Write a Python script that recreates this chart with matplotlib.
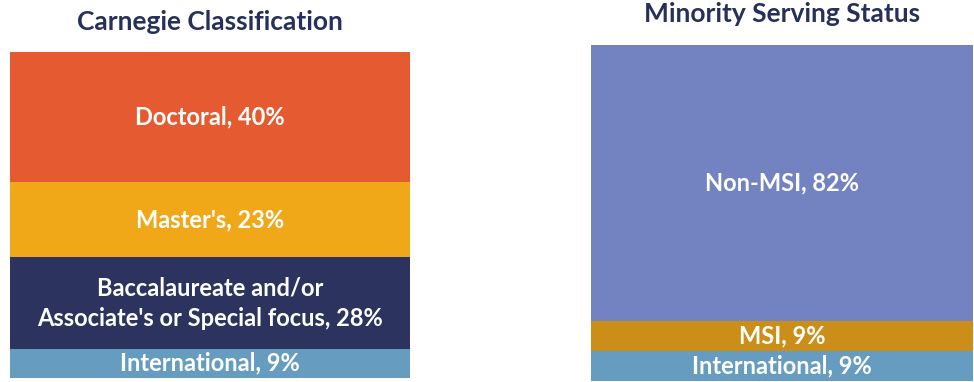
import matplotlib
matplotlib.use("Agg")
import matplotlib.pyplot as plt

# Carnegie classification shares (bottom to top)
carnegie_labels = ["International, 9%",
                   "Baccalaureate and/or\nAssociate's or Special focus, 28%",
                   "Master's, 23%",
                   "Doctoral, 40%"]
carnegie_values = [9, 28, 23, 40]
carnegie_colors = ["#669cc0", "#2b335e", "#f0a818", "#e55a30"]

# Minority serving status shares (bottom to top)
msi_labels = ["International, 9%", "MSI, 9%", "Non-MSI, 82%"]
msi_values = [9, 9, 82]
msi_colors = ["#669cc0", "#cb8e18", "#7383c2"]

plt.rcParams['font.family'] = ['Lato', 'DejaVu Sans']
TITLE_COLOR = "#27305a"

W, H = 974, 382
fig = plt.figure(figsize=(W / 100, H / 100), dpi=100)


def stacked(rect, labels, values, colors, title, title_y):
    ax = fig.add_axes(rect)
    bottom = 0
    for lab, v, c in zip(labels, values, colors):
        ax.bar(0, v, bottom=bottom, width=1, color=c, edgecolor="none")
        ax.text(0, bottom + v / 2, lab, ha="center", va="center",
                color="white", fontsize=17, fontweight="bold",
                linespacing=1.4)
        bottom += v
    ax.set_xlim(-0.5, 0.5)
    ax.set_ylim(0, sum(values))
    ax.axis("off")
    fig.text(rect[0] + rect[2] / 2, title_y, title, ha="center", va="center",
             color=TITLE_COLOR, fontsize=19, fontweight="bold")
    return ax


stacked([10 / W, 4 / H, 400 / W, 326 / H], carnegie_labels, carnegie_values,
        carnegie_colors, "Carnegie Classification", 1 - 22 / H)
stacked([591 / W, 1 / H, 382 / W, 336 / H], msi_labels, msi_values,
        msi_colors, "Minority Serving Status", 1 - 14 / H)

fig.savefig("out.png", dpi=100)
